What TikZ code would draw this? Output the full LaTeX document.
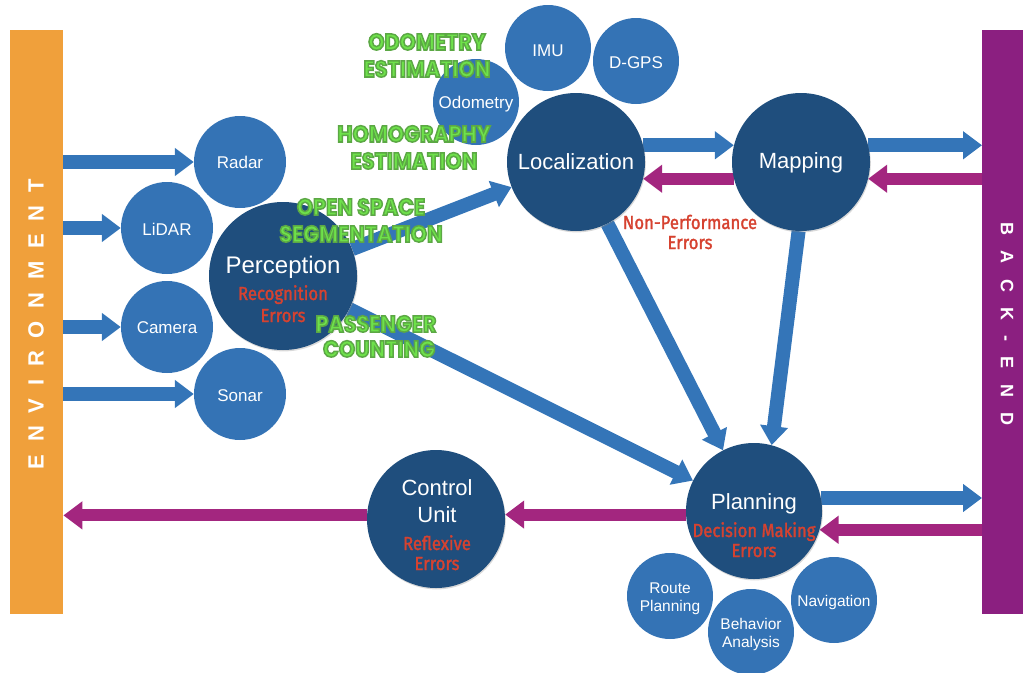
\documentclass[tikz,border=0pt]{standalone}
\usepackage{fontspec}
\setmainfont{Liberation Sans}
\newfontfamily\redfont[FakeStretch=0.88,FakeBold=1.6]{Fira Sans}
\newfontfamily\greenfont[FakeStretch=0.9]{Poppins}
\newfontfamily\barfont[LetterSpace=58]{Liberation Sans}
\newfontfamily\backfont[LetterSpace=85]{Liberation Sans}
\usetikzlibrary{arrows.meta,shadows,backgrounds}

\definecolor{envorange}{RGB}{240,160,59}
\definecolor{backpurple}{RGB}{139,31,128}
\definecolor{sensorblue}{RGB}{52,115,181}
\definecolor{coreblue}{RGB}{31,78,125}
\definecolor{flowblue}{RGB}{52,117,184}
\definecolor{feedpurple}{RGB}{163,38,127}
\definecolor{errred}{RGB}{214,66,48}
\definecolor{taskgreen}{RGB}{110,226,74}

% green task labels: filled and stroked with a darker green rim
\newcommand{\rimmed}[1]{\special{pdf:literal direct 2 Tr 1.5 w 0.36 0.66 0.27 RG}#1\special{pdf:literal direct 0 Tr}}

\tikzset{
  sensor/.style={circle, fill=sensorblue, minimum size=92pt, inner sep=0pt},
  subunit/.style={circle, fill=sensorblue, minimum size=86pt, inner sep=0pt},
  core/.style={circle, fill=coreblue, minimum size=138pt, inner sep=0pt,
    drop shadow={opacity=0.3, shadow xshift=0.8pt, shadow yshift=-1.4pt}},
  flow/.style={draw=flowblue, line width=14pt, -{Triangle[width=27pt,length=19pt]}},
  feed/.style={draw=feedpurple, line width=12pt, -{Triangle[width=27pt,length=19pt]}},
  txt/.style={anchor=base, inner sep=0pt, text=white},
  bigtxt/.style={txt, font=\fontsize{22}{24}\selectfont},
  smalltxt/.style={txt, font=\fontsize{17}{19}\selectfont},
  subtxt/.style={txt, font=\fontsize{15.5}{17}\selectfont},
  errtxt/.style={anchor=base, inner sep=0pt, text=errred, font=\redfont\fontsize{19}{20}\selectfont},
  tasktxt/.style={anchor=base, inner sep=0pt, text=taskgreen, font=\greenfont\bfseries\fontsize{23}{24}\selectfont},
}

\begin{document}
\begin{tikzpicture}[x=1pt, y=-1pt]
\useasboundingbox (0,0) rectangle (1025,672);

% side bars
\node[rectangle, fill=envorange, minimum width=53pt, minimum height=584pt, inner sep=0pt, anchor=north west] (env) at (10,30) {};
\node[rectangle, fill=backpurple, minimum width=41pt, minimum height=584pt, inner sep=0pt, anchor=north west] (back) at (982,30) {};
\node[rotate=90, text=white, inner sep=0pt, font=\barfont\bfseries\fontsize{22}{22}\selectfont] (envlabel) at (36,324) {ENVIRONMENT};
\node[rotate=-90, text=white, inner sep=0pt, font=\backfont\bfseries\fontsize{18}{18}\selectfont] (backlabel) at (1007,324) {BACK-END};

% sensors
\node[sensor] (radar)  at (240,162) {};
\node[sensor] (lidar)  at (167,228) {};
\node[sensor] (camera) at (167,327) {};
\node[sensor] (sonar)  at (240,394) {};

% localization inputs
\node[subunit] (odom) at (476,102) {};
\node[subunit] (imu)  at (548,48) {};
\node[subunit] (dgps) at (636,61) {};

% planning tasks
\node[subunit] (route) at (670,596) {};
\node[subunit] (behav) at (751,632) {};
\node[subunit] (navi)  at (834,600) {};

% core modules
\node[core, minimum size=148pt] (perc) at (283,276) {};
\node[core] (loc)  at (576,162) {};
\node[core] (map)  at (801,162) {};
\node[core, minimum size=136pt] (plan) at (754,511) {};
\node[core] (ctrl) at (436,519) {};

% connectors
\begin{pgfonlayer}{background}
  \draw[flow] (env.east |- radar.west) -- (radar.west);
  \draw[flow] (env.east |- lidar.west) -- (lidar.west);
  \draw[flow] (env.east |- camera.west) -- (camera.west);
  \draw[flow] (env.east |- sonar.west) -- (sonar.west);
  \draw[flow] (perc) -- (loc);
  \draw[flow] (perc) -- (plan);
  \draw[flow] (loc.14) -- (map.166);
  \draw[flow] (map.14) -- (back.west |- map.14);
  \draw[flow] (loc) -- (plan);
  \draw[flow] (map.268) -- (plan.75);
  \draw[flow] (plan.11) -- (back.west |- plan.11);
  \draw[feed] (map.194) -- (loc.-14);
  \draw[feed] (back.west |- map.-14) -- (map.-14);
  \draw[feed] (back.west |- plan.-16) -- (plan.-16);
  \draw[feed] (plan.183) -- (plan.183 -| ctrl.east);
  \draw[feed] (ctrl.177) -- (env.east |- ctrl.177);
\end{pgfonlayer}

% module names
\node[smalltxt] (radar-t)  at (240,168) {Radar};
\node[smalltxt] (lidar-t)  at (167,235) {LiDAR};
\node[smalltxt] (camera-t) at (167,333) {Camera};
\node[smalltxt] (sonar-t)  at (240,401) {Sonar};
\node[smalltxt] (odom-t)   at (476,108) {Odometry};
\node[smalltxt] (imu-t)    at (548,56) {IMU};
\node[smalltxt] (dgps-t)   at (636,68) {D-GPS};
\node[subtxt] (route-t1) at (670,593) {Route};
\node[subtxt] (route-t2) at (670,611) {Planning};
\node[subtxt] (behav-t1) at (751,629) {Behavior};
\node[subtxt] (behav-t2) at (751,647) {Analysis};
\node[subtxt] (navi-t)   at (834,606) {Navigation};

\node[bigtxt, font=\fontsize{24}{26}\selectfont] (perc-t) at (283,273) {Perception};
\node[bigtxt] (loc-t)   at (576,169) {Localization};
\node[bigtxt] (map-t)   at (801,168) {Mapping};
\node[bigtxt] (plan-t)  at (754,509) {Planning};
\node[bigtxt] (ctrl-t1) at (437,495) {Control};
\node[bigtxt] (ctrl-t2) at (437,522) {Unit};

% error classes
\node[errtxt] (perc-e1) at (283,300) {Recognition};
\node[errtxt] (perc-e2) at (283,322) {Errors};
\node[errtxt] (map-e1)  at (690,229) {Non-Performance};
\node[errtxt] (map-e2)  at (690,249) {Errors};
\node[errtxt] (plan-e1) at (754,537) {Decision Making};
\node[errtxt] (plan-e2) at (754,557) {Errors};
\node[errtxt] (ctrl-e1) at (437,550) {Reflexive};
\node[errtxt] (ctrl-e2) at (437,570) {Errors};

% tasks
\node[tasktxt] (odo-1)  at (427,50)  {\rimmed{ODOMETRY}};
\node[tasktxt] (odo-2)  at (427,77)  {\rimmed{ESTIMATION}};
\node[tasktxt] (hom-1)  at (414,142) {\rimmed{HOMOGRAPHY}};
\node[tasktxt] (hom-2)  at (414,169) {\rimmed{ESTIMATION}};
\node[tasktxt] (seg-1)  at (361,215) {\rimmed{OPEN SPACE}};
\node[tasktxt] (seg-2)  at (361,242) {\rimmed{SEGMENTATION}};
\node[tasktxt] (pas-1)  at (376,332) {\rimmed{PASSENGER}};
\node[tasktxt] (pas-2)  at (379,357) {\rimmed{COUNTING}};
\end{tikzpicture}
\end{document}
